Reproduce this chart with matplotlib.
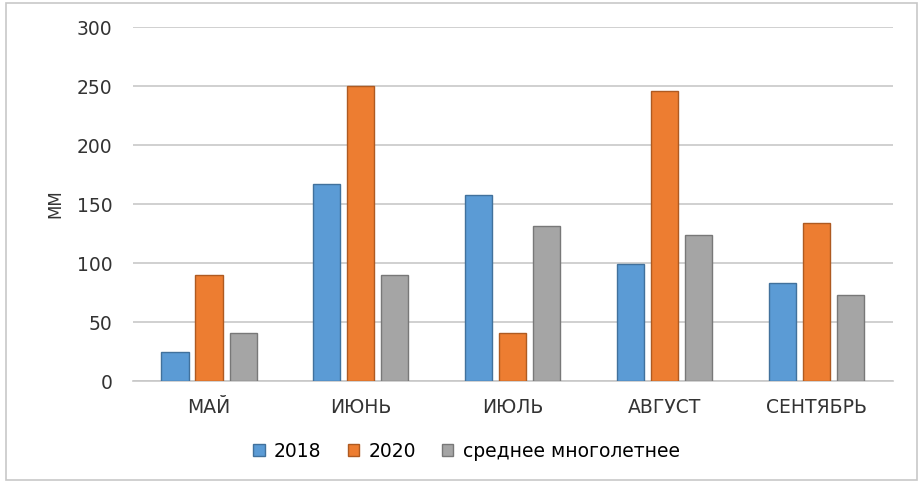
import numpy as np
import matplotlib
matplotlib.use('Agg')
import matplotlib.pyplot as plt
from matplotlib.patches import Rectangle

months = ['МАЙ', 'ИЮНЬ', 'ИЮЛЬ', 'АВГУСТ', 'СЕНТЯБРЬ']
y2018 = [25, 167, 158, 99, 83]
y2020 = [90, 250, 41, 246, 134]
avg = [41, 90, 131, 124, 73]
series_names = ['2018', '2020', 'среднее многолетнее']

plt.rcParams['font.family'] = ['DejaVu Sans']

fig = plt.figure(figsize=(9.24, 4.83), dpi=100)
ax = fig.add_axes([0.144, 0.211, 0.822, 0.733])

# outer frame of chart
fig.patches.append(Rectangle((0.006, 0.006), 0.986, 0.988, transform=fig.transFigure,
                             fill=False, edgecolor='#c8c8c8', linewidth=1.2))

x = np.arange(len(months))
w = 0.178
off = 0.224
cols = ['#5B9BD5', '#ED7D31', '#A5A5A5']
edges = ['#41719C', '#AE5A21', '#787878']
for i, vals in enumerate([y2018, y2020, avg]):
    ax.bar(x + (i - 1) * off, vals, w, color=cols[i], edgecolor=edges[i],
           linewidth=1.0, label=series_names[i], zorder=3)

ax.set_xlim(-0.5, len(months) - 0.5)
ax.set_ylim(0, 300)
ax.set_yticks(range(0, 301, 50))
ax.set_xticks(x)
ax.set_xticklabels(months)
ax.grid(axis='y', color='#c8c8c8', linewidth=1.2, zorder=0)
for s in ['top', 'right', 'left']:
    ax.spines[s].set_visible(False)
ax.spines['bottom'].set_color('#c8c8c8')
ax.spines['bottom'].set_linewidth(1.2)
ax.tick_params(axis='both', length=0, labelsize=13.5, colors='#333333')
ax.tick_params(axis='x', pad=12)
ax.tick_params(axis='y', pad=15)
ax.set_ylabel('ММ', fontsize=12, color='#333333')
ax.yaxis.set_label_coords(-0.09, 0.5)

fig.legend(*ax.get_legend_handles_labels(), loc='center', bbox_to_anchor=(0.505, 0.066),
           ncol=3, frameon=False, fontsize=13.5, handlelength=0.6, handleheight=0.6,
           handletextpad=0.5, columnspacing=1.4)

fig.savefig('out.png', dpi=100)
